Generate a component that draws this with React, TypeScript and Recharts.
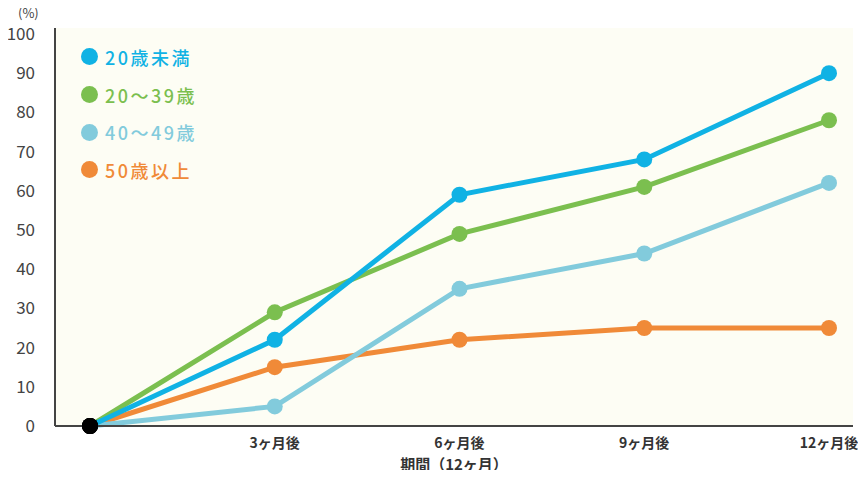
import { LineChart, Line, XAxis, YAxis, CartesianGrid } from 'recharts';

const periods = ['', '3ヶ月後', '6ヶ月後', '9ヶ月後', '12ヶ月後'];
const under20 = [0, 22, 59, 68, 90];
const age20to39 = [0, 29, 49, 61, 78];
const age40to49 = [0, 5, 35, 44, 62];
const over50 = [0, 15, 22, 25, 25];
const yTicks = [0, 10, 20, 30, 40, 50, 60, 70, 80, 90, 100];

const series = [
  { key: 'over50', name: '50歳以上', color: '#f08a38', values: over50 },
  { key: 'age20to39', name: '20～39歳', color: '#7bbf4f', values: age20to39 },
  { key: 'age40to49', name: '40～49歳', color: '#82cbdc', values: age40to49 },
  { key: 'under20', name: '20歳未満', color: '#10b2e4', values: under20 },
];
const legendOrder = ['under20', 'age20to39', 'age40to49', 'over50'];

const data = periods.map((p, i) => {
  const row: Record<string, string | number> = { period: p };
  series.forEach((s) => { row[s.key] = s.values[i]; });
  return row;
});

const FONT = '"Noto Sans CJK JP", "Noto Sans", sans-serif';

function makeDot(color: string) {
  return (props: any) => {
    const { cx, cy, index } = props;
    return <circle key={`d-${index}`} cx={cx} cy={cy} r={8} fill={index === 0 ? '#000' : color} />;
  };
}

function LegendBox() {
  return (
    <div style={{ position: 'absolute', left: 81, top: 38, fontFamily: FONT }}>
      {legendOrder.map((k) => {
        const s = series.find((x) => x.key === k)!;
        return (
          <div key={k} style={{ display: 'flex', alignItems: 'center', height: 37.7, color: s.color, fontSize: 18, fontWeight: 500, letterSpacing: 2.5 }}>
            <span style={{ width: 17, height: 17, borderRadius: '50%', background: s.color, display: 'inline-block', marginRight: 7 }} />
            {s.name}
          </div>
        );
      })}
    </div>
  );
}

export default function App() {
  return (
    <div style={{ position: 'relative', margin: -8, width: 866, height: 478, background: '#fff' }}>
      <LineChart width={866} height={478} data={data} margin={{ top: 28, right: 13, left: 0, bottom: 0 }}>
        <CartesianGrid fill="#fdfdf4" stroke="none" horizontal={false} vertical={false} />
        <XAxis
          dataKey="period"
          height={52}
          padding={{ left: 35, right: 24 }}
          tickLine={false}
          axisLine={{ stroke: '#444', strokeWidth: 2 }}
          tick={{ fill: '#333', fontSize: 14, fontFamily: FONT, fontWeight: 600 }}
          tickMargin={6}
          interval={0}
          label={{ value: '期間（12ヶ月）', position: 'insideBottom', offset: 8, fill: '#333', fontSize: 15, fontFamily: FONT, fontWeight: 600 }}
        />
        <YAxis
          width={55}
          domain={[0, 100]}
          ticks={yTicks}
          interval={0}
          padding={{ top: 6 }}
          tickLine={false}
          axisLine={{ stroke: '#444', strokeWidth: 2 }}
          tick={{ fill: '#444', fontSize: 17, fontFamily: FONT }}
          tickMargin={14}
        />
        {series.map((s) => (
          <Line
            key={s.key}
            type="linear"
            dataKey={s.key}
            name={s.name}
            stroke={s.color}
            strokeWidth={5}
            dot={makeDot(s.color)}
            activeDot={false}
            isAnimationActive={false}
          />
        ))}
      </LineChart>
      <span style={{ position: 'absolute', left: 18, top: 5, fontFamily: FONT, fontSize: 13, lineHeight: '15px', color: '#444' }}>(%)</span>
      <LegendBox />
    </div>
  );
}
